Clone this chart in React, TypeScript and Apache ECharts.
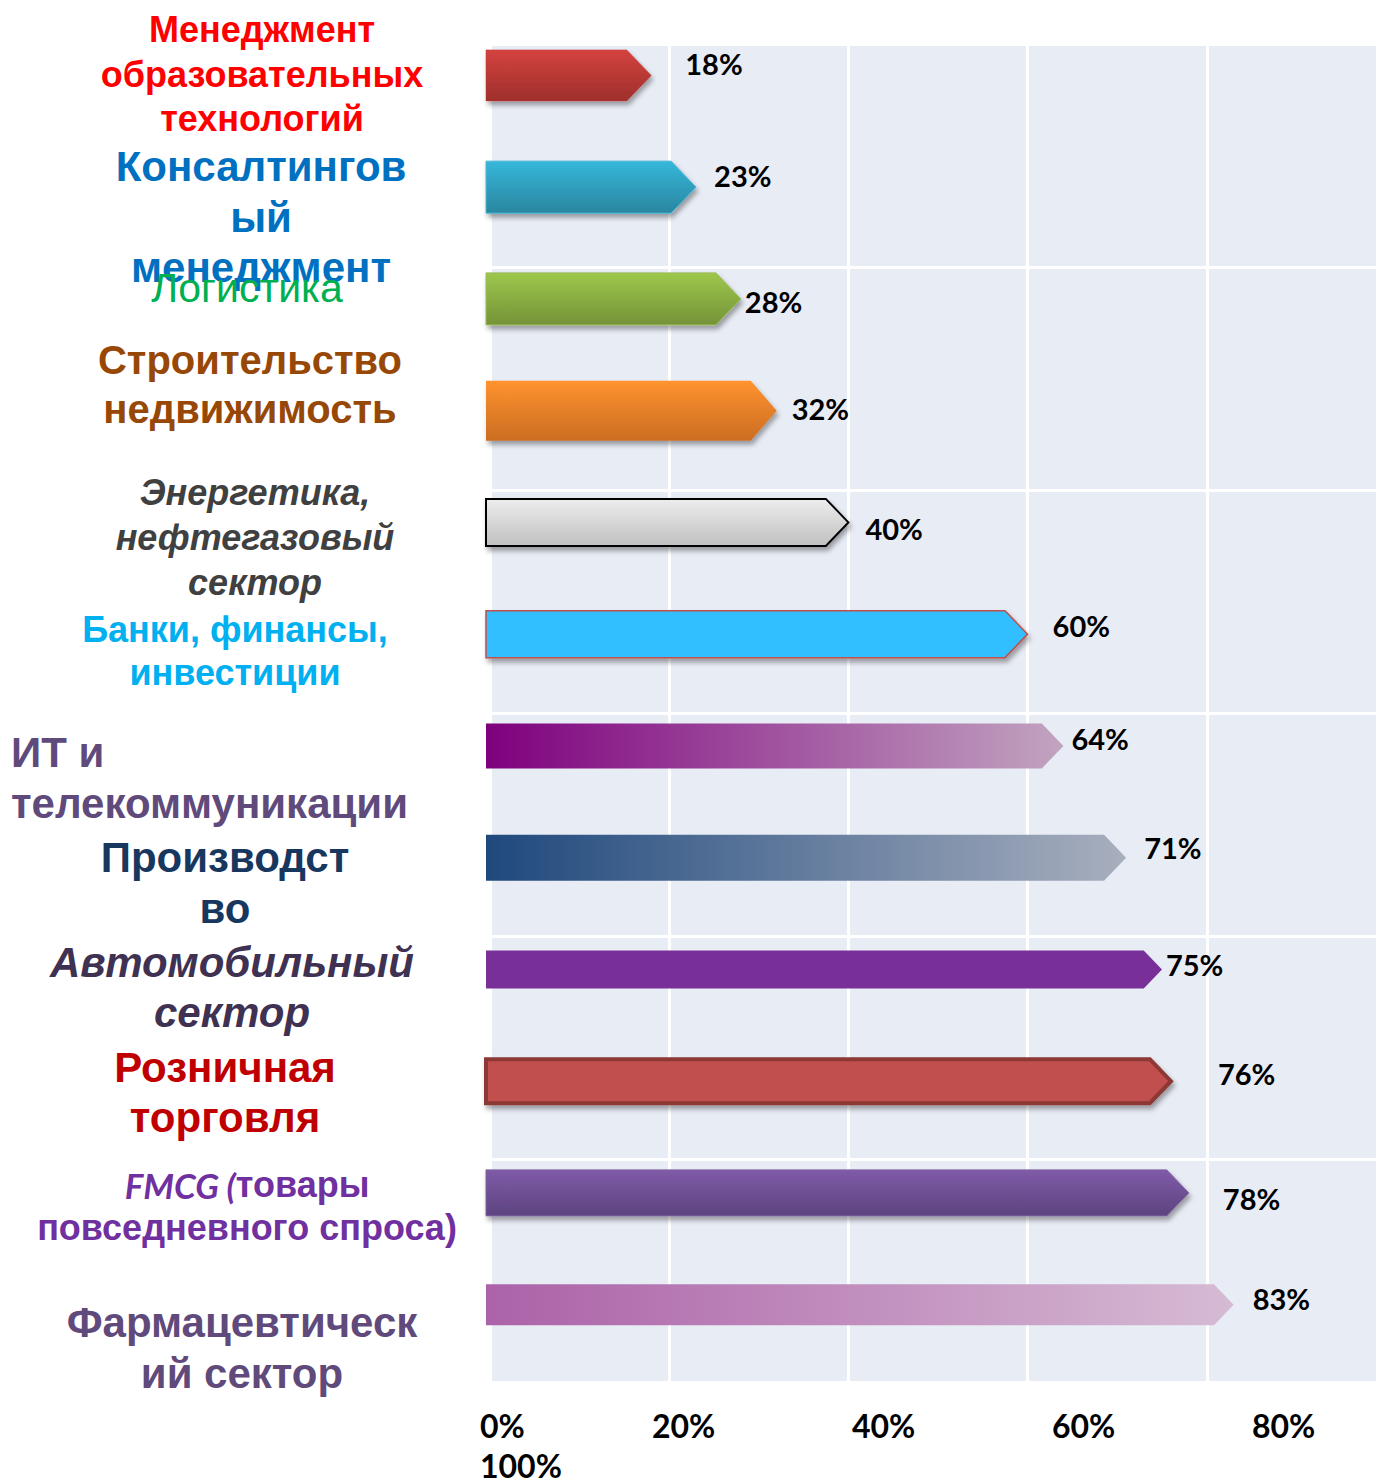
import React, { useEffect, useRef } from "react";
import * as echarts from "echarts";

// ---------- data ----------
const categories = [
  "Менеджмент\nобразовательных\nтехнологий",
  "Консалтингов\nый\nменеджмент",
  "Логистика",
  "Строительство\nнедвижимость",
  "Энергетика,\nнефтегазовый\nсектор",
  "Банки, финансы,\nинвестиции",
  "ИТ и\nтелекоммуникации",
  "Производст\nво",
  "Автомобильный\nсектор",
  "Розничная\nторговля",
  "FMCG (товары\nповседневного спроса)",
  "Фармацевтическ\nий сектор",
];
const values = [18, 23, 28, 32, 40, 60, 64, 71, 75, 76, 78, 83];
const tickLabels = ["0%", "20%", "40%", "60%", "80%", "100%"];

// ---------- styles ----------
const barHeights = [51, 52, 52, 60, 47, 47, 45, 46, 38, 44, 46, 41];
const labelGap = [34, 18, 4, 15, 17, 25, 8, 18, 4, 47, 34, 19];
const labelDy = [-12, -12, 3, -2, 6, -9, -7, -10, -5, -8, 6, -6];

type BarStyle = {
  colors: string[];
  dir?: "v" | "h";
  stroke?: string;
  lw?: number;
  shadow?: boolean;
};
const barStyles: BarStyle[] = [
  { colors: ["#D4433F", "#9E2F2C"], dir: "v", stroke: "#C43B37", lw: 0.5, shadow: true },
  { colors: ["#35B7DA", "#2A86A0"], dir: "v", stroke: "#4BB8D6", lw: 1, shadow: true },
  { colors: ["#9DC74B", "#759339"], dir: "v", stroke: "#9BBB59", lw: 1, shadow: true },
  { colors: ["#FF932F", "#CB6D22"], dir: "v", shadow: true },
  { colors: ["#EDEDED", "#C0C0C0"], dir: "v", stroke: "#000000", lw: 2, shadow: true },
  { colors: ["#33BFFF"], stroke: "#C0504D", lw: 1.5, shadow: true },
  { colors: ["#7E007E", "#C2A4C0"], dir: "h" },
  { colors: ["#1F497D", "#A8AFBE"], dir: "h" },
  { colors: ["#782F97"] },
  { colors: ["#C0504D"], stroke: "#8C3836", lw: 4, shadow: true },
  { colors: ["#7F5BA8", "#5D437F"], dir: "v", stroke: "#8064A2", lw: 1, shadow: true },
  { colors: ["#AC62A8", "#D6BBD4"], dir: "h" },
];

type LabelStyle = {
  x: number;
  y: number;
  size: number;
  lh: number;
  color: string;
  weight?: string;
  italic?: boolean;
  align?: string;
  italicPrefix?: string;
};
const labelStyles: LabelStyle[] = [
  { x: 262, y: 74, size: 36, lh: 44.5, color: "#FF0000" },
  { x: 261, y: 217, size: 42, lh: 50.5, color: "#0070C0" },
  { x: 247, y: 288, size: 41, lh: 48, color: "#00B050", weight: "normal" },
  { x: 250, y: 384, size: 40, lh: 49, color: "#984806" },
  { x: 255, y: 537, size: 36, lh: 45, color: "#404040", italic: true },
  { x: 235, y: 651, size: 36, lh: 43, color: "#00B0F0" },
  { x: 11, y: 778, size: 42, lh: 51, color: "#604A7B", align: "left" },
  { x: 225, y: 883, size: 42, lh: 51, color: "#17375E" },
  { x: 232, y: 987, size: 42, lh: 50, color: "#3F3151", italic: true },
  { x: 225, y: 1092, size: 42, lh: 50, color: "#C00000" },
  { x: 247, y: 1206, size: 36, lh: 43, color: "#7030A0", italicPrefix: "FMCG (" },
  { x: 242, y: 1348, size: 42, lh: 51, color: "#604A7B" },
];

const tickPos = [
  { x: 480, y: 1425 },
  { x: 652, y: 1425 },
  { x: 852, y: 1425 },
  { x: 1052, y: 1425 },
  { x: 1252, y: 1425 },
  { x: 480, y: 1465 },
];

const FONT = '"Liberation Sans", Arial, sans-serif';
const NUMFONT = 'Lato, "Open Sans", sans-serif';

function makeFill(s: BarStyle) {
  if (s.colors.length === 1) return s.colors[0];
  const [c0, c1] = s.colors;
  return s.dir === "h"
    ? new echarts.graphic.LinearGradient(0, 0, 1, 0, [
        { offset: 0, color: c0 },
        { offset: 1, color: c1 },
      ])
    : new echarts.graphic.LinearGradient(0, 0, 0, 1, [
        { offset: 0, color: c0 },
        { offset: 1, color: c1 },
      ]);
}

function buildLabelGraphics() {
  return categories.map((c, i) => {
    const s = labelStyles[i];
    const base: any = {
      type: "text",
      x: s.x,
      y: s.y,
      z: 10,
      style: {
        fill: s.color,
        fontFamily: FONT,
        fontSize: s.size,
        fontWeight: s.weight || "bold",
        fontStyle: s.italic ? "italic" : "normal",
        align: s.align || "center",
        verticalAlign: "middle",
        lineHeight: s.lh,
      },
    };
    if (s.italicPrefix) {
      const lines = c.split("\n").map((ln) =>
        ln.startsWith(s.italicPrefix!)
          ? `{it|${s.italicPrefix}}{n|${ln.slice(s.italicPrefix!.length)}}`
          : `{n|${ln}}`
      );
      base.style.text = lines.join("\n");
      base.style.rich = {
        it: {
          fontFamily: NUMFONT,
          fontStyle: "italic",
          fontWeight: "bold",
          fontSize: s.size - 1,
          fill: s.color,
          lineHeight: s.lh,
        },
        n: {
          fontFamily: FONT,
          fontWeight: "bold",
          fontSize: s.size,
          fill: s.color,
          lineHeight: s.lh,
        },
      };
    } else {
      base.style.text = c;
    }
    return base;
  });
}

function buildTickGraphics() {
  return tickLabels.map((t, i) => ({
    type: "text",
    x: tickPos[i].x,
    y: tickPos[i].y,
    style: {
      text: t,
      fill: "#000",
      fontFamily: NUMFONT,
      fontWeight: "bold",
      fontSize: 32,
      align: "left",
      verticalAlign: "middle",
    },
  }));
}

export default function App() {
  const ref = useRef<HTMLDivElement>(null);
  useEffect(() => {
    if (!ref.current) return;
    const chart = echarts.init(ref.current, undefined, { renderer: "svg" });
    const option: any = {
      animation: false,
      backgroundColor: "#FFFFFF",
      grid: [
        {
          left: 490,
          top: 44,
          width: 887,
          height: 1338,
          show: true,
          backgroundColor: "#E8ECF5",
          borderWidth: 0,
        },
        { left: 490, top: 19.5, width: 887, height: 1341, show: false },
      ],
      xAxis: [
        {
          gridIndex: 0,
          type: "value",
          min: 0,
          max: 99,
          interval: 20,
          axisLine: { show: false },
          axisTick: { show: false },
          axisLabel: { show: false },
          splitLine: { show: true, lineStyle: { color: "#FFFFFF", width: 3 } },
        },
        { gridIndex: 1, type: "value", min: 0, max: 99, show: false },
      ],
      yAxis: [
        {
          gridIndex: 0,
          type: "category",
          data: categories,
          inverse: true,
          axisLine: { show: false },
          axisTick: { show: false },
          axisLabel: { show: false },
          splitLine: {
            show: true,
            interval: 1,
            lineStyle: { color: "#FFFFFF", width: 3 },
          },
        },
        {
          gridIndex: 1,
          type: "category",
          data: categories,
          inverse: true,
          show: false,
        },
      ],
      graphic: [...buildLabelGraphics(), ...buildTickGraphics()],
      series: [
        {
          type: "custom",
          xAxisIndex: 1,
          yAxisIndex: 1,
          clip: false,
          encode: { x: 0, y: 1 },
          data: values.map((v, i) => [v, i]),
          renderItem: (params: any, api: any) => {
            const i = params.dataIndex;
            const v = api.value(0);
            const start = api.coord([0, i]);
            const end = api.coord([v, i]);
            const h = barHeights[i];
            const a = Math.min(h * 0.48, 26);
            const x0 = start[0] - 4;
            const x1 = end[0];
            const y = end[1];
            const s = barStyles[i];
            const style: any = {
              fill: makeFill(s),
              stroke: s.stroke || null,
              lineWidth: s.lw || 0,
              lineJoin: "miter",
            };
            if (s.shadow) {
              style.shadowColor = "rgba(0,0,0,0.35)";
              style.shadowBlur = 5;
              style.shadowOffsetX = 2;
              style.shadowOffsetY = 4;
            }
            return {
              type: "group",
              children: [
                {
                  type: "polygon",
                  shape: {
                    points: [
                      [x0, y - h / 2],
                      [x1 - a, y - h / 2],
                      [x1, y],
                      [x1 - a, y + h / 2],
                      [x0, y + h / 2],
                    ],
                  },
                  style,
                },
                {
                  type: "text",
                  x: x1 + labelGap[i],
                  y: y + labelDy[i],
                  style: {
                    text: `${v}%`,
                    fill: "#000",
                    fontFamily: NUMFONT,
                    fontWeight: "bold",
                    fontSize: 29,
                    align: "left",
                    verticalAlign: "middle",
                  },
                },
              ],
            };
          },
        },
      ],
    };
    chart.setOption(option);
    return () => chart.dispose();
  }, []);
  return (
    <div
      ref={ref}
      style={{ position: "absolute", left: 0, top: 0, width: 1377, height: 1483 }}
    />
  );
}
